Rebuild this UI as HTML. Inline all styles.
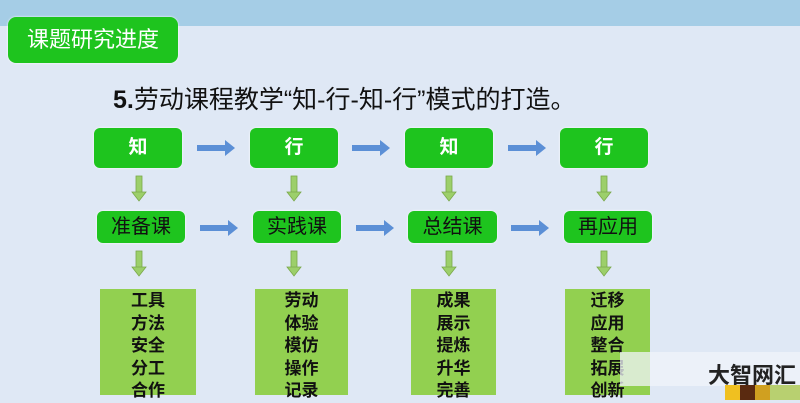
<!DOCTYPE html><html><head><meta charset="utf-8"><style>
body{margin:0;width:800px;height:400px;overflow:hidden;background:#dfe8f5;font-family:"Liberation Sans","Noto Sans CJK SC",sans-serif;position:relative}
.a{position:absolute}
.g{position:absolute;background:#1ec41e;border-radius:6px;color:#111;text-align:center;box-shadow:0 0 2px #fff}
.t{color:#fff;font-weight:bold;font-size:19px}
.m{font-size:20px}
.b{position:absolute;background:#92d050;color:#111;font-weight:bold;font-size:17px;line-height:22.5px;text-align:center;padding-top:1px;box-sizing:border-box}
</style></head><body>
<div class="a" style="left:0;top:0;width:800px;height:26px;background:#a5cde6"></div>
<div class="g" style="left:8px;top:17px;width:170px;height:46px;line-height:46px;color:#fff;font-size:22px;border-radius:8px">课题研究进度</div>
<div class="a" style="left:113px;top:80px;font-size:25px;color:#111"><b>5.</b>劳动课程教学“知-行-知-行”模式的打造。</div>
<div class="g t" style="left:94px;top:128px;width:88px;height:40px;line-height:40px">知</div>
<div class="g t" style="left:250px;top:128px;width:88px;height:40px;line-height:40px">行</div>
<div class="g t" style="left:405px;top:128px;width:88px;height:40px;line-height:40px">知</div>
<div class="g t" style="left:560px;top:128px;width:88px;height:40px;line-height:40px">行</div>
<div class="g m" style="left:97px;top:211px;width:88px;height:32px;line-height:32px">准备课</div>
<div class="g m" style="left:253px;top:211px;width:88px;height:32px;line-height:32px">实践课</div>
<div class="g m" style="left:408px;top:211px;width:89px;height:32px;line-height:32px">总结课</div>
<div class="g m" style="left:564px;top:211px;width:88px;height:32px;line-height:32px">再应用</div>
<div class="b" style="left:100px;top:289px;width:96px;height:106px">工具<br>方法<br>安全<br>分工<br>合作</div>
<div class="b" style="left:255px;top:289px;width:93px;height:106px">劳动<br>体验<br>模仿<br>操作<br>记录</div>
<div class="b" style="left:411px;top:289px;width:85px;height:106px">成果<br>展示<br>提炼<br>升华<br>完善</div>
<div class="b" style="left:565px;top:289px;width:85px;height:106px">迁移<br>应用<br>整合<br>拓展<br>创新</div>
<svg class="a" style="left:0;top:0" width="800" height="400">
<defs><g id="h"><rect x="0" y="-3" width="30" height="6" fill="#5b8fd6"/><polygon points="28,-8 38,0 28,8" fill="#5b8fd6"/></g>
<g id="v"><rect x="-3" y="0" width="6" height="18" fill="#9ccf6a" stroke="#7aa84a" stroke-width=".8"/><polygon points="-7,16 7,16 0,25" fill="#9ccf6a" stroke="#7aa84a" stroke-width=".8"/></g></defs>
<use href="#h" x="197" y="148"/><use href="#h" x="352" y="148"/><use href="#h" x="508" y="148"/>
<use href="#h" x="200" y="228"/><use href="#h" x="356" y="228"/><use href="#h" x="511" y="228"/>
<use href="#v" x="139" y="176"/><use href="#v" x="294" y="176"/><use href="#v" x="449" y="176"/><use href="#v" x="604" y="176"/>
<use href="#v" x="139" y="251"/><use href="#v" x="294" y="251"/><use href="#v" x="449" y="251"/><use href="#v" x="604" y="251"/>
</svg>
<div class="a" style="left:620px;top:352px;width:180px;height:34px;background:rgba(240,244,250,.75)"></div>
<div class="a" style="left:708px;top:358px;font-size:22px;font-weight:bold;color:#222">大智网汇</div>
<div class="a" style="left:725px;top:385px;width:75px;height:15px;background:linear-gradient(90deg,#f0c020 0 20%,#5a2a10 20% 40%,#d0a020 40% 60%,#b8d070 60%)"></div>
</body></html>
